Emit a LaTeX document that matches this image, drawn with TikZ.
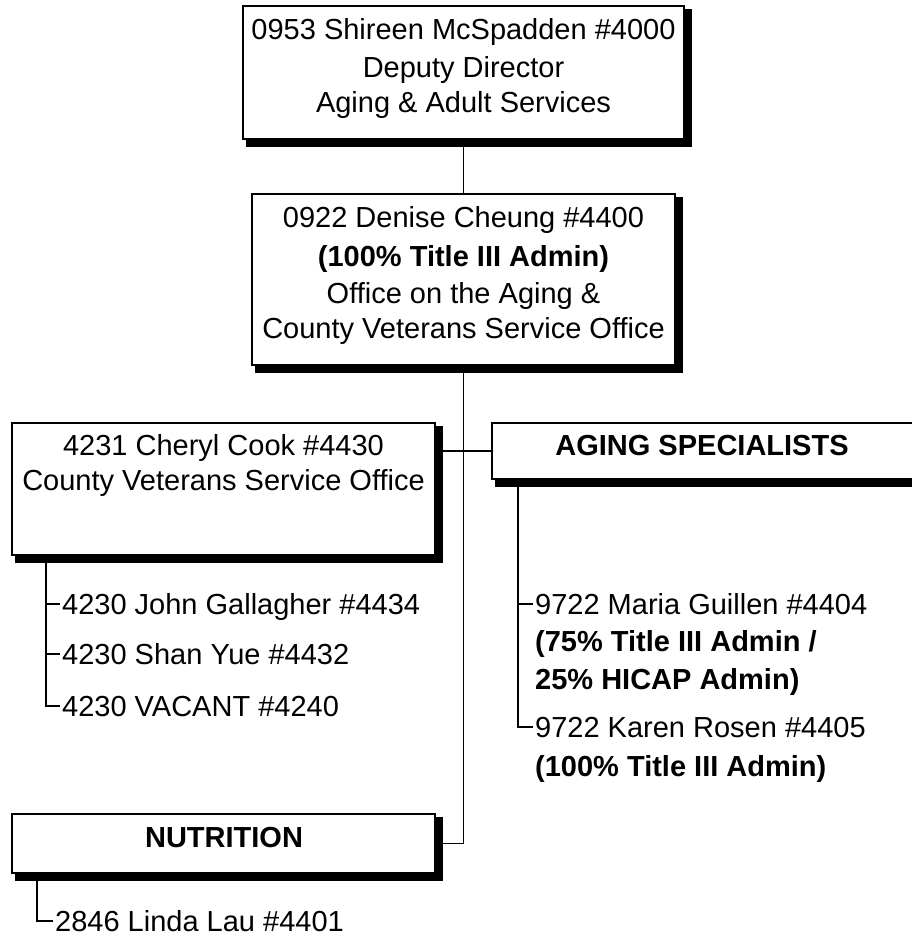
\documentclass[tikz,border=0pt]{standalone}
\usepackage{fontspec}
\setmainfont{Liberation Sans}
\usetikzlibrary{calc}
\pgfdeclarelayer{connectors}
\pgfdeclarelayer{shadows}
\pgfsetlayers{connectors,shadows,main}
\begin{document}
\begin{tikzpicture}[x=1pt,y=-1pt,
  unitbox/.style={draw=black, fill=white, line width=1.4pt, inner sep=0pt, outer sep=0pt},
  txt/.style={font=\fontsize{29}{34}\selectfont, inner sep=0pt, text height=20.8pt, text depth=0pt},
  boldtxt/.style={txt, font=\fontsize{29}{34}\selectfont\bfseries},
  staff/.style={txt, anchor=west, inner xsep=2pt},
  boldstaff/.style={boldtxt, anchor=west, inner xsep=2pt},
  link/.style={draw=black, line width=1.3pt}
]
\useasboundingbox (0,0) rectangle (912,937);
\clip (0,0) rectangle (912,937);

% unit boxes
\node (dir)   [unitbox, minimum width=441pt, minimum height=133pt] at (463.5,72.5) {};
\node (off)   [unitbox, minimum width=423pt, minimum height=171pt] at (463.5,279.5) {};
\node (cvso)  [unitbox, minimum width=423pt, minimum height=132pt] at (223.5,489) {};
\node (aging) [unitbox, minimum width=448pt, minimum height=56pt]  at (716,451) {};
\node (nutr)  [unitbox, minimum width=423pt, minimum height=59pt]  at (223.5,843.5) {};

% box captions
\node (dirA) [txt] at (463.5,29)  {0953 Shireen McSpadden \#4000};
\node (dirB) [txt] at (463.5,67)  {Deputy Director};
\node (dirC) [txt] at (463.5,102) {Aging \& Adult Services};

\node (offA) [txt]     at (463.5,217) {0922 Denise Cheung \#4400};
\node (offB) [boldtxt] at (463.5,256) {(100\% Title III Admin)};
\node (offC) [txt]     at (463.5,293) {Office on the Aging \&};
\node (offD) [txt]     at (463.5,328) {County Veterans Service Office};

\node (cvsoA) [txt] at (223.5,445) {4231 Cheryl Cook \#4430};
\node (cvsoB) [txt] at (223.5,480) {County Veterans Service Office};

\node (agingA) [boldtxt] at (702,445) {AGING SPECIALISTS};
\node (nutrA)  [boldtxt] at (224,837) {NUTRITION};

% staff lists
\node (john)   [staff] at (60,604) {4230 John Gallagher \#4434};
\node (shan)   [staff] at (60,654) {4230 Shan Yue \#4432};
\node (vacant) [staff] at (60,706) {4230 VACANT \#4240};

\node (maria)  [staff]     at (533,604) {9722 Maria Guillen \#4404};
\node (mariaB) [boldstaff] at (533,641) {(75\% Title III Admin /};
\node (mariaC) [boldstaff] at (533,679) {25\% HICAP Admin)};
\node (karen)  [staff]     at (533,727) {9722 Karen Rosen \#4405};
\node (karenB) [boldstaff] at (533,766) {(100\% Title III Admin)};

\node (linda)  [staff] at (53,921) {2846 Linda Lau \#4401};

% stems below the boxes
\coordinate (cvsostem)  at ($(cvso.south west)+(34,0)$);
\coordinate (agingstem) at ($(aging.south west)+(26,0)$);
\coordinate (nutrstem)  at ($(nutr.south west)+(25,0)$);

\begin{pgfonlayer}{connectors}
  \draw[link] (dir.south) -- (off.north);
  \draw[link] (off.south) |- (nutr.east);
  \draw[link] (cvso.east |- aging.west) -- (aging.west);
  \draw[link] (cvsostem) |- (vacant.west);
  \draw[link] (cvsostem |- john.west) -- (john.west);
  \draw[link] (cvsostem |- shan.west) -- (shan.west);
  \draw[link] (agingstem) |- (karen.west);
  \draw[link] (agingstem |- maria.west) -- (maria.west);
  \draw[link] (nutrstem) |- (linda.west);
\end{pgfonlayer}

\begin{pgfonlayer}{shadows}
  \foreach \b in {dir,off,cvso,aging,nutr}
    \fill[black] ($(\b.north west)+(3,3)$) rectangle ($(\b.south east)+(8,8)$);
\end{pgfonlayer}
\end{tikzpicture}
\end{document}
